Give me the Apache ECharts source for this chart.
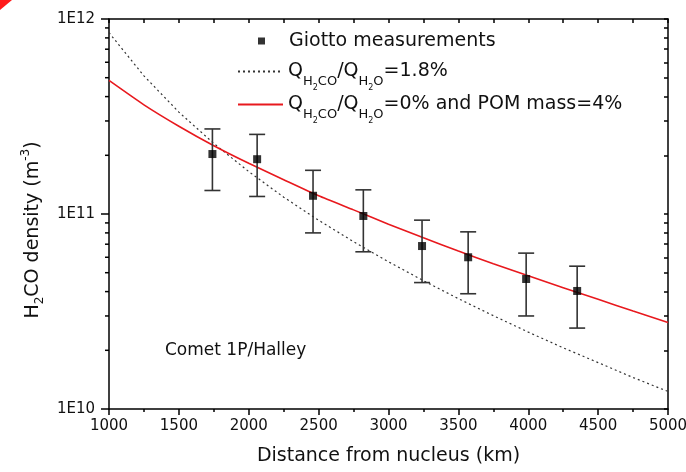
<!DOCTYPE html>
<html><head><meta charset="utf-8">
<script src="https://cdn.jsdelivr.net/npm/echarts@6/dist/echarts.min.js"></script>
<style>html,body{margin:0;padding:0;background:#fff}#c{width:686px;height:472px}</style>
</head><body><div id="c"></div>
<script>
// ---- data ----
const distanceKm = [1000,1250,1500,1750,2000,2250,2500,2750,3000,3250,3500,3750,4000,4250,4500,4750,5000];
const densityPOM4 = [4.84e11,3.63e11,2.82e11,2.24e11,1.82e11,1.50e11,1.24e11,1.05e11,8.87e10,7.55e10,6.46e10,5.56e10,4.82e10,4.19e10,3.65e10,3.18e10,2.78e10];
const densityRatio18 = [8.51e11,5.11e11,3.33e11,2.30e11,1.65e11,1.22e11,9.29e10,7.21e10,5.69e10,4.55e10,3.68e10,3.01e10,2.48e10,2.06e10,1.73e10,1.45e10,1.23e10];
const giottoDistance = [1740,2060,2460,2820,3240,3570,3985,4350];
const giottoDensity = [2.03e11,1.91e11,1.24e11,9.77e10,6.85e10,6.0e10,4.64e10,4.03e10];
const giottoLow = [1.32e11,1.23e11,8.0e10,6.4e10,4.45e10,3.9e10,3.0e10,2.6e10];
const giottoHigh = [2.73e11,2.56e11,1.675e11,1.33e11,9.3e10,8.1e10,6.3e10,5.4e10];
const yMajorTicks = [1e10,1e11,1e12];
const yMinorTicks = [2e10,3e10,4e10,5e10,6e10,7e10,8e10,9e10,2e11,3e11,4e11,5e11,6e11,7e11,8e11,9e11];
const xMin = 1000, xMax = 5000;
const seriesNames = ['Giotto measurements','ratio18','pom4'];

const FONT = 'DejaVu Sans';
const subRich = {
  s: {fontFamily: FONT, fontSize: 13, padding: [20,0,0,0], lineHeight: 22, color: '#111'},
  ss: {fontFamily: FONT, fontSize: 8, padding: [33,0,0,0], lineHeight: 22, color: '#111'}
};
const legendLabels = {
  'Giotto measurements': 'Giotto measurements',
  'ratio18': 'Q{s|H}{ss|2}{s|CO}/Q{s|H}{ss|2}{s|O}=1.8%',
  'pom4': 'Q{s|H}{ss|2}{s|CO}/Q{s|H}{ss|2}{s|O}=0% and POM mass=4%'
};
function legendCfg(name, left, top, extra) {
  return Object.assign({
    orient: 'vertical', left: left, top: top, padding: 0, itemWidth: 45, itemHeight: 14,
    selectedMode: false, data: [name],
    itemStyle: {opacity: 0},
    formatter: n => legendLabels[n],
    textStyle: {fontFamily: FONT, fontSize: 19, color: '#111', lineHeight: 22, rich: subRich}
  }, extra || {});
}
const tickStyle = {color: '#000', width: 1.5};
const cornerMark = {id: 'corner', type: 'polygon', shape: {points: [[0,0],[12,0],[0,10]]}, style: {fill: '#ff1a1a'}};
const chart = echarts.init(document.getElementById('c'));
chart.setOption({
  backgroundColor: '#fff',
  animation: false,
  title: {text: 'Comet 1P/Halley', left: 165, top: 342, padding: 0,
    textStyle: {fontFamily: FONT, fontSize: 17, fontWeight: 'normal', color: '#111'}},
  graphic: [cornerMark],
  legend: [
    legendCfg(seriesNames[0], 258, 30, {itemHeight: 7, itemStyle: {}, data: [{name: seriesNames[0], icon: 'path://M0,0h10v10h-10z'}]}),
    legendCfg(seriesNames[1], 237, 51),
    legendCfg(seriesNames[2], 237, 84)
  ],
  grid: {left: 109, right: 18, top: 19, bottom: 63, outerBoundsMode: 'none'},
  xAxis: [
    {type: 'value', min: xMin, max: xMax, interval: 500, position: 'bottom',
     name: 'Distance from nucleus (km)', nameLocation: 'middle', nameGap: 38,
     nameTextStyle: {fontFamily: FONT, fontSize: 19, color: '#111'},
     axisLine: {show: true, lineStyle: tickStyle},
     axisTick: {show: true, inside: false, length: 6, lineStyle: tickStyle},
     minorTick: {show: true, splitNumber: 2, length: 3, lineStyle: tickStyle},
     axisLabel: {fontFamily: FONT, fontSize: 15, color: '#111', margin: 10, formatter: v => String(v)},
     splitLine: {show: false}},
    {type: 'value', min: xMin, max: xMax, interval: 500, position: 'top',
     axisLine: {show: true, lineStyle: tickStyle},
     axisTick: {show: true, inside: true, length: 4, lineStyle: tickStyle},
     minorTick: {show: true, splitNumber: 2, length: 4, lineStyle: tickStyle},
     axisLabel: {show: false}, splitLine: {show: false}}
  ],
  yAxis: [
    {type: 'log', logBase: 10, min: 1e10, max: 1e12, position: 'left',
     name: 'H{sub|2}CO density (m{sup|-3})', nameLocation: 'middle', nameGap: 60, nameRotate: 90,
     nameTextStyle: {fontFamily: FONT, fontSize: 19, color: '#111', padding: [0, 32, 0, 0],
       rich: {sub: {fontFamily: FONT, fontSize: 12, padding: [14,0,0,0], color: '#111'},
              sup: {fontFamily: FONT, fontSize: 12, padding: [0,0,14,0], color: '#111'}}},
     axisLine: {show: true, lineStyle: tickStyle},
     axisTick: {show: false},
     axisLabel: {show: true, fontFamily: FONT, fontSize: 15, color: '#111', margin: 14, customValues: yMajorTicks,
       formatter: v => '1E' + Math.round(Math.log10(v))},
     splitLine: {show: false}},
    {type: 'log', logBase: 10, min: 1e10, max: 1e12, position: 'right',
     axisLine: {show: true, lineStyle: tickStyle},
     axisTick: {show: true, inside: true, length: 4, customValues: yMinorTicks.concat(yMajorTicks), lineStyle: tickStyle},
     axisLabel: {show: false}, splitLine: {show: false}}
  ],
  series: [
    {name: seriesNames[1], type: 'line', xAxisIndex: 0, yAxisIndex: 0, symbol: 'none',
     data: distanceKm.map((d, i) => [d, densityRatio18[i]]),
     lineStyle: {color: '#333', width: 1.2, type: [2, 3]}, itemStyle: {color: '#333'}, z: 2},
    {name: seriesNames[2], type: 'line', xAxisIndex: 0, yAxisIndex: 0, symbol: 'none', smooth: 0.2,
     data: distanceKm.map((d, i) => [d, densityPOM4[i]]),
     lineStyle: {color: '#e8191e', width: 1.6}, itemStyle: {color: '#e8191e'}, z: 3},
    {type: 'custom', xAxisIndex: 0, yAxisIndex: 0, z: 4,
     data: giottoDistance.map((d, i) => [d, giottoLow[i], giottoHigh[i]]),
     encode: {x: 0, y: [1, 2]},
     renderItem: function (params, api) {
       const lo = api.coord([api.value(0), api.value(1)]);
       const hi = api.coord([api.value(0), api.value(2)]);
       const hw = 8;
       const st = {stroke: '#333', lineWidth: 1.6};
       return {type: 'group', children: [
         {type: 'line', shape: {x1: lo[0], y1: lo[1], x2: hi[0], y2: hi[1]}, style: st},
         {type: 'line', shape: {x1: lo[0]-hw, y1: lo[1], x2: lo[0]+hw, y2: lo[1]}, style: st},
         {type: 'line', shape: {x1: hi[0]-hw, y1: hi[1], x2: hi[0]+hw, y2: hi[1]}, style: st}
       ]};
     }},
    {name: seriesNames[0], type: 'scatter', xAxisIndex: 0, yAxisIndex: 0, symbol: 'rect', symbolSize: 8,
     data: giottoDistance.map((d, i) => [d, giottoDensity[i]]),
     itemStyle: {color: '#000'}, z: 5}
  ]
});
// left-axis outward ticks (major + log minor), positioned through the chart's own y scale
const tickMarks = [cornerMark];
yMajorTicks.map(v => [v, 8]).concat(yMinorTicks.map(v => [v, 4])).forEach(function (t, i) {
  const p = chart.convertToPixel({xAxisIndex: 0, yAxisIndex: 0}, [xMin, t[0]]);
  tickMarks.push({id: 'ytick' + i, type: 'line', z: 100,
    shape: {x1: p[0] - t[1], y1: p[1], x2: p[0], y2: p[1]},
    style: {stroke: '#000', lineWidth: 1.5}});
});
chart.setOption({graphic: tickMarks});
</script></body></html>
